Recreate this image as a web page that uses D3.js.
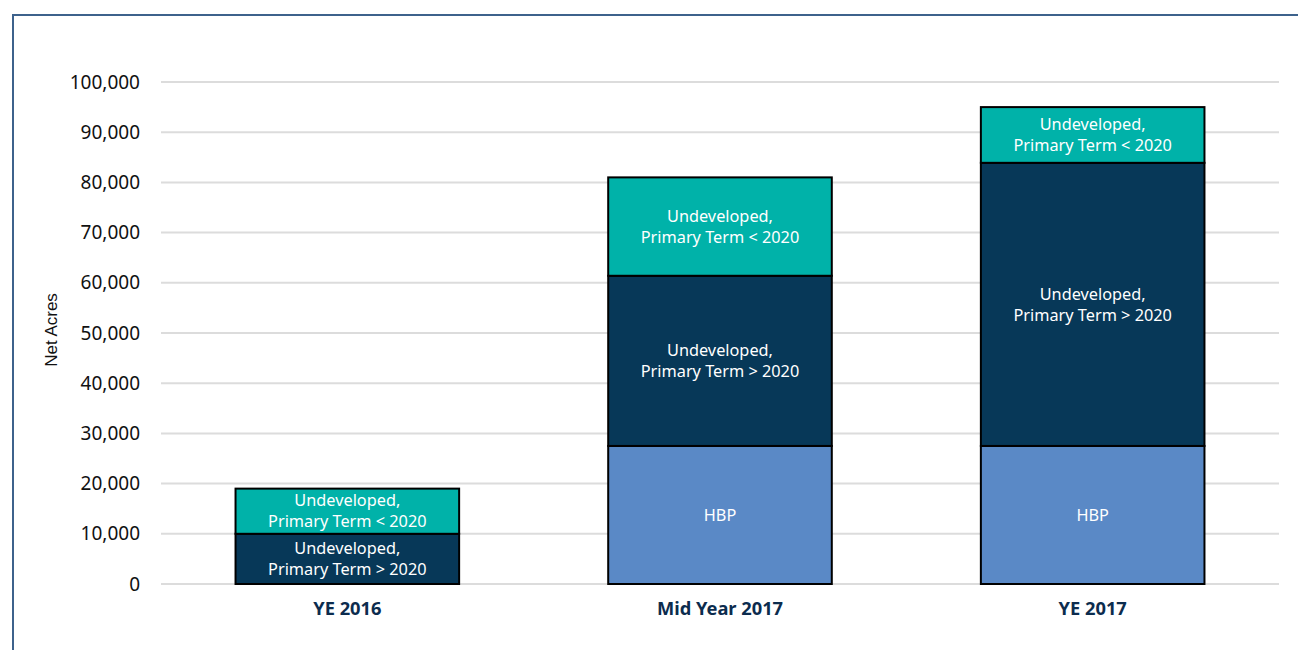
<!DOCTYPE html>
<html><head><meta charset="utf-8">
<script src="https://cdn.jsdelivr.net/npm/d3@7/dist/d3.min.js"></script>
<style>body{margin:0;background:#fff;}svg{display:block;font-family:"Noto Sans","Open Sans",sans-serif;}</style>
</head><body>
<script>
const categories = ["YE 2016", "Mid Year 2017", "YE 2017"];
const seriesNames = ["HBP", "Undeveloped,\nPrimary Term > 2020", "Undeveloped,\nPrimary Term < 2020"];
const hbp = [0, 27500, 27500];
const termAfter2020 = [10000, 33900, 56400];
const termBefore2020 = [9000, 19600, 11100];
const colors = ["#5a89c6", "#073858", "#00b2a9"];
const yTicks = [0,10000,20000,30000,40000,50000,60000,70000,80000,90000,100000];

const W = 1298, H = 650;
const svg = d3.select("body").append("svg").attr("width", W).attr("height", H);

// frame
svg.append("path").attr("d", `M13,${H} L13,15 L${W},15`).attr("fill","none").attr("stroke","#3d628c").attr("stroke-width",2);

const x = d3.scaleBand().domain(categories).range([161, 1279]).paddingInner(0.4).paddingOuter(0.2);
const y = d3.scaleLinear().domain([0, 100000]).range([584, 82]);

// gridlines
svg.append("g").selectAll("line").data(yTicks).join("line")
  .attr("x1",161).attr("x2",1279).attr("y1",d=>y(d)).attr("y2",d=>y(d))
  .attr("stroke","#dcdcdc").attr("stroke-width",2);

// y axis
const yAxis = d3.axisLeft(y).tickValues(yTicks).tickFormat(d3.format(",")).tickSize(0).tickPadding(0);
const ya = svg.append("g").attr("transform","translate(140,0)").call(yAxis)
  .attr("font-family","'Noto Sans', sans-serif");
ya.select(".domain").remove();
ya.selectAll("text").attr("font-size",19).attr("fill","#111");

svg.append("text").attr("transform","translate(57,330) rotate(-90)").attr("text-anchor","middle")
  .attr("font-family","'Liberation Sans', Arial, sans-serif")
  .attr("font-size",17).attr("fill","#111").text("Net Acres");

const data = categories.map((c,i)=>({cat:c, v:[hbp[i], termAfter2020[i], termBefore2020[i]]}));
const stack = d3.stack().keys([0,1,2]).value((d,k)=>d.v[k]);
const stacked = stack(data);

stacked.forEach((layer, k) => {
  const g = svg.append("g");
  layer.forEach((seg, i) => {
    if (seg[1] - seg[0] <= 0) return;
    const x0 = x(categories[i]);
    g.append("rect").attr("x", x0).attr("y", y(seg[1])).attr("width", x.bandwidth())
      .attr("height", y(seg[0]) - y(seg[1])).attr("fill", colors[k]).attr("stroke","#000").attr("stroke-width",2);
    const lines = seriesNames[k].split("\n");
    const cy = (y(seg[0]) + y(seg[1]))/2;
    const lh = 21;
    const t = g.append("text").attr("text-anchor","middle").attr("fill","#fff").attr("font-size",16.3);
    lines.forEach((ln, j) => {
      t.append("tspan").attr("x", x0 + x.bandwidth()/2)
        .attr("y", cy + (j - (lines.length-1)/2)*lh).attr("dy","0.35em").text(ln);
    });
  });
});

// x axis labels
const xAxis = d3.axisBottom(x).tickSize(0).tickPadding(0);
const xa = svg.append("g").attr("transform","translate(0,609)").call(xAxis)
  .attr("font-family","'Noto Sans', sans-serif");
xa.select(".domain").remove();
xa.selectAll("text").attr("font-size",18.3).attr("font-weight","bold").attr("fill","#0c2c4e").attr("dy","0.35em");
</script>
</body></html>
